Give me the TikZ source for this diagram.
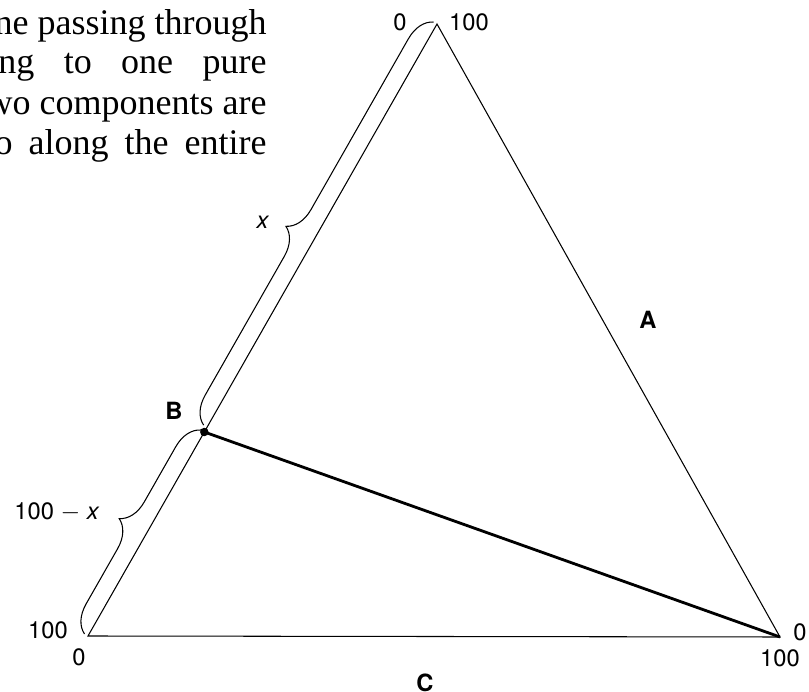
\documentclass[tikz,border=0pt]{standalone}
\usepackage{fontspec}
\setmainfont{TeX Gyre Heros}
\newfontfamily\serifparrafo{Liberation Serif}
\usetikzlibrary{calc, decorations.pathreplacing}

\begin{document}
\begin{tikzpicture}[
        x=0.02cm, y=-0.02cm,
        lado/.style={line width=0.6pt, black},
        llave/.style={line width=0.6pt, decorate, decoration={brace, amplitude=0.54cm}},
        etiqueta/.style={font=\fontsize{13.5}{16}\selectfont, inner sep=0pt},
        vertice/.style={inner sep=0pt, font=\fontsize{13.5}{16}\selectfont\bfseries},
        linea_texto/.style={font=\fontsize{20.5}{24}\selectfont\serifparrafo, inner sep=0pt, anchor=base east}
    ]

        % Marco fijo (proporciones de la figura)
        \useasboundingbox (0,0) rectangle (809,692);
        \clip (0,0) rectangle (809,692);

        % Texto del parrafo cortado a la izquierda
        \node[linea_texto] (t1) at (267,35) {ne passing through};
        \node[linea_texto] (t2) at (267,74) {\makebox[7.45em][s]{ng to one pure}};
        \node[linea_texto] (t3) at (267,115) {wo components are};
        \node[linea_texto] (t4) at (267,155) {\makebox[7.55em][s]{o along the entire}};

        % Vertices del triangulo y punto B a un tercio del lado
        \coordinate (T) at (437,24);
        \coordinate (L) at (88,636);
        \coordinate (R) at (780,637);
        \coordinate (B) at ($(L)!1/3!(T)$);

        \draw[lado] (L) -- (T) -- (R) -- cycle;
        \draw[line width=1.6pt] (B) -- (R);
        \fill (B) circle[radius=0.085cm];

        % Llaves sobre el lado izquierdo
        \draw[llave] ($(L)+(-3.5,-2)$) -- ($(B)+(-3.5,-2)$);
        \draw[llave, decoration={aspect=0.46}] ($(B)!0.012!(T)+(-3.5,-2)$) -- ($(T)+(-3.5,-2)$);

        % Escalas en los vertices
        \node[etiqueta] (top0) at (400,22) {0};
        \node[etiqueta] (top100) at (469,22) {100};
        \node[etiqueta] (izq100) at (48,630) {100};
        \node[etiqueta] (izq0) at (79,657) {0};
        \node[etiqueta] (der0) at (800,632) {0};
        \node[etiqueta] (der100) at (780,658) {100};

        % Etiquetas de las llaves
        \node[etiqueta] (lx) at (263,222) {\textit{x}};
        \node[etiqueta] (lcien) at (57,512) {100 $-$ \textit{x}};

        % Componentes
        \node[vertice] (cA) at (648,320) {A};
        \node[vertice] (cB) at (174,411) {B};
        \node[vertice] (cC) at (425,683) {C};

    \end{tikzpicture}
\end{document}
